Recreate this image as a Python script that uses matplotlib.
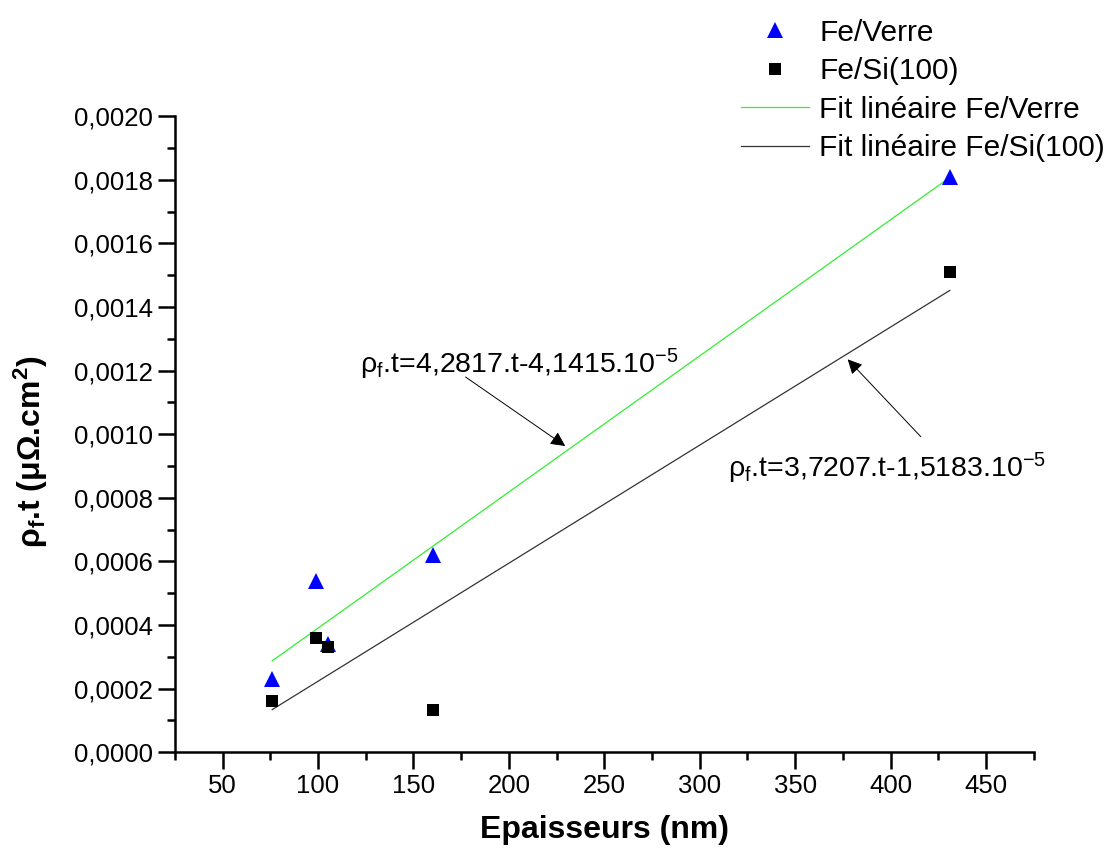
import matplotlib
matplotlib.use("Agg")
import matplotlib.pyplot as plt
import numpy as np
from matplotlib.ticker import MultipleLocator, FuncFormatter

plt.rcParams['font.family'] = ['Liberation Sans', 'DejaVu Sans']
plt.rcParams['mathtext.fontset'] = 'custom'
plt.rcParams['mathtext.rm'] = 'Liberation Sans'
plt.rcParams['mathtext.it'] = 'Liberation Sans'
plt.rcParams['mathtext.bf'] = 'Liberation Sans:bold'
plt.rcParams['mathtext.default'] = 'regular'

# epaisseurs (nm) et rho_f.t (µOhm.cm2)
ep_verre = [76, 99, 105, 160, 431]
rt_verre = [0.00023, 0.00054, 0.00034, 0.00062, 0.00181]
ep_si = [76, 99, 105, 160, 431]
rt_si = [0.00016, 0.00036, 0.00033, 0.000134, 0.00151]

eq_verre = r'$\rho_f$.t=4,2817.t-4,1415.10$^{-5}$'
eq_si = r'$\rho_f$.t=3,7207.t-1,5183.10$^{-5}$'

fig = plt.figure(figsize=(11.14, 8.49), dpi=100)
ax = fig.add_axes([0.157, 0.114, 0.771, 0.749])

# fits lineaires
p_v = np.polyfit(ep_verre, rt_verre, 1)
p_s = np.polyfit(ep_si, rt_si, 1)
xv = np.array([min(ep_verre), max(ep_verre)])
xs = np.array([min(ep_si), max(ep_si)])

h1, = ax.plot(ep_verre, rt_verre, '^', color='#0000ff', markersize=12, markeredgewidth=0, label='Fe/Verre', zorder=3)
h2, = ax.plot(ep_si, rt_si, 's', color='black', markersize=9, markeredgewidth=0, label='Fe/Si(100)', zorder=4)
h3, = ax.plot(xv, np.polyval(p_v, xv), color='#33ee33', lw=0.9, label='Fit linéaire Fe/Verre', zorder=2)
h4, = ax.plot(xs, np.polyval(p_s, xs), color='#333333', lw=0.9, label='Fit linéaire Fe/Si(100)', zorder=2)

ax.set_xlim(25, 475)
ax.set_ylim(0, 0.0020)
ax.xaxis.set_major_locator(MultipleLocator(50))
ax.xaxis.set_minor_locator(MultipleLocator(25))
ax.yaxis.set_major_locator(MultipleLocator(0.0002))
ax.yaxis.set_minor_locator(MultipleLocator(0.0001))
ax.yaxis.set_major_formatter(FuncFormatter(lambda v, p: ('%.4f' % v).replace('.', ',')))
ax.xaxis.set_major_formatter(FuncFormatter(lambda v, p: '%d' % v if v >= 50 and v <= 450 else ''))

for s in ['top', 'right']:
    ax.spines[s].set_visible(False)
for s in ['left', 'bottom']:
    ax.spines[s].set_linewidth(1.8)
ax.tick_params(which='major', direction='out', length=12, width=1.8, labelsize=18.5, pad=4)
ax.tick_params(which='minor', direction='out', length=6, width=1.8)

ax.set_xlabel('Epaisseurs (nm)', fontsize=23, fontweight='bold')
ax.xaxis.set_label_coords(0.5, -0.099)
ax.set_ylabel(r'$\rho_f$.t ($\mu\Omega$.cm$^\mathbf{2}$)', fontsize=23, fontweight='bold')
ax.yaxis.set_label_coords(-0.1455, 0.473)

# equations et fleches
ax.text(122, 0.001191, eq_verre, fontsize=20.5, va='baseline', ha='left')
ax.annotate('', xy=(230.7, 0.000958), xytext=(176.1, 0.001185),
            arrowprops=dict(arrowstyle='-|>', color='black', lw=0.7, mutation_scale=22))
ax.text(315, 0.000864, eq_si, fontsize=20.5, va='baseline', ha='left')
ax.annotate('', xy=(376.5, 0.001242), xytext=(416.8, 0.000986),
            arrowprops=dict(arrowstyle='-|>', color='black', lw=0.7, mutation_scale=22))

fig.legend(handles=[h1, h2, h3, h4], loc='upper left', bbox_to_anchor=(0.665, 0.978),
           frameon=False, fontsize=21.5, handlelength=2.3, handletextpad=0.33,
           labelspacing=0.35, borderpad=0, borderaxespad=0)

fig.savefig('out.png', dpi=100)
